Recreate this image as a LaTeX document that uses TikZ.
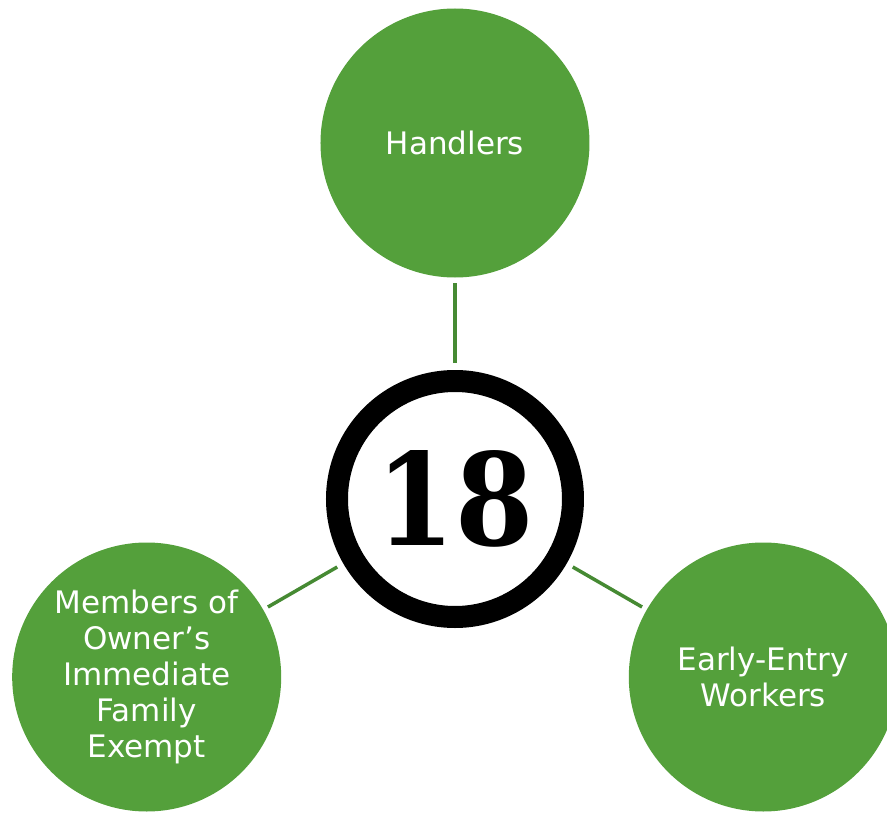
\documentclass[tikz,border=0pt]{standalone}
\usepackage{fontspec}
\usepackage{graphicx}
\setmainfont{DejaVu Sans}
\newfontfamily\numfont{DejaVu Serif}
\usetikzlibrary{positioning}
\definecolor{leafGreen}{HTML}{54A03B}
\definecolor{linkGreen}{HTML}{468A33}
\tikzset{
  leaf/.style={
    circle,
    fill=leafGreen,
    minimum size=269pt,
    inner sep=0pt,
    outer sep=0pt,
    text width=200pt,
    align=center,
    text=white,
    font=\fontsize{31}{36}\selectfont
  },
  hub/.style={
    circle,
    draw=black,
    line width=22pt,
    fill=white,
    minimum size=236pt,
    inner sep=0pt,
    font=\fontsize{128}{128}\selectfont
  },
  link/.style={line width=3.5pt, draw=linkGreen, shorten <=7pt, shorten >=5.5pt}
}

\begin{document}
\begin{tikzpicture}
  \useasboundingbox (-455pt,-313pt) rectangle (432pt,499pt);
  \clip (-455pt,-313pt) rectangle (432pt,499pt);
  \node[hub] (hub) at (0,0) {\scalebox{0.88}[1]{\numfont\bfseries 18}};
  \node[leaf] (handlers) at (90:356pt) {Handlers};
  \node[leaf] (family) at (210:356pt) {Members of\\Owner’s\\Immediate\\Family\\Exempt};
  \node[leaf] (early) at (330:356pt) {Early-Entry\\Workers};

  \draw[link] (hub) -- (handlers);
  \draw[link] (hub) -- (family);
  \draw[link] (hub) -- (early);
\end{tikzpicture}
\end{document}
